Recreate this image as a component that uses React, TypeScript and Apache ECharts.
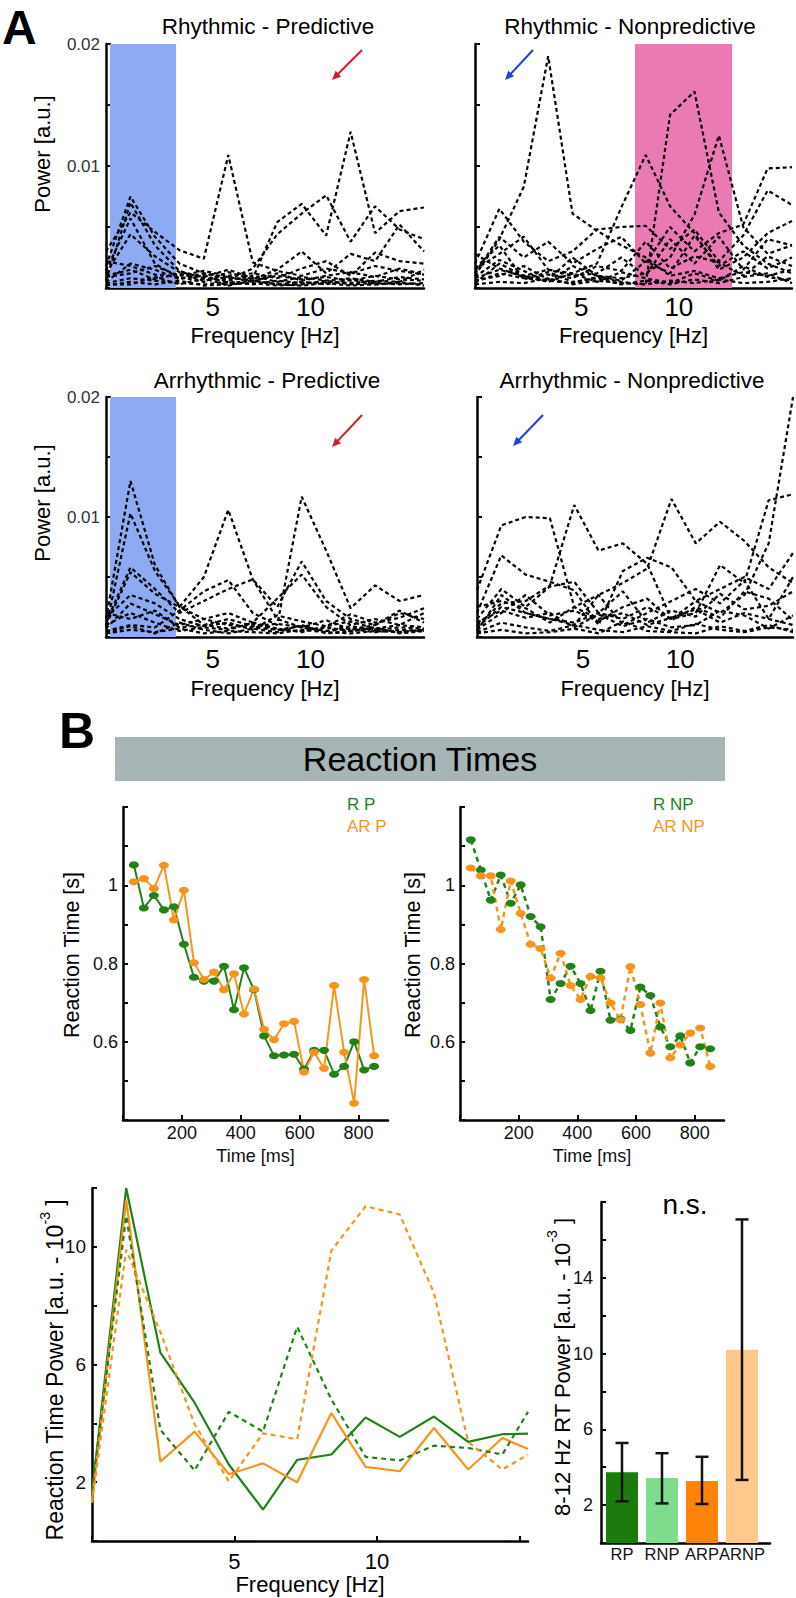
import React, { useEffect, useRef } from 'react';
import * as echarts from 'echarts';

const FONT = '"Liberation Sans", Arial, Helvetica, sans-serif';
const GREEN = '#22821a';
const ORANGE = '#f7941e';

// ---------- Panel A: per-subject spectra (power, units of 1e-3) ----------
const freqA = [-0.45, 0.8, 2.05, 3.3, 4.55, 5.8, 7.05, 8.3, 9.55, 10.8, 12.05, 13.3, 14.55, 15.8];

const rpLines = [
  [1.8, 7.5, 4.2, 2.0, 1.2, 0.9, 0.6, 1.0, 0.7, 0.9, 0.6, 1.0, 0.7, 0.6],
  [0.6, 7.0, 3.5, 1.4, 0.8, 0.6, 1.0, 0.5, 0.9, 0.6, 0.8, 0.5, 0.9, 0.7],
  [3.0, 6.2, 4.6, 3.1, 2.4, 10.9, 2.1, 1.4, 1.0, 1.6, 1.2, 1.8, 1.4, 1.1],
  [1.2, 4.4, 2.6, 1.3, 0.9, 1.5, 0.8, 5.4, 6.9, 4.3, 12.8, 4.5, 6.3, 6.6],
  [0.5, 2.0, 1.5, 0.7, 1.2, 0.7, 1.6, 4.4, 6.1, 7.6, 3.8, 6.7, 4.8, 4.0],
  [2.2, 1.8, 1.1, 0.9, 0.5, 1.3, 0.7, 1.5, 3.0, 1.2, 2.8, 2.2, 5.2, 3.0],
  [0.9, 1.2, 1.8, 1.0, 1.4, 1.0, 1.2, 0.8, 1.6, 2.2, 1.0, 2.9, 2.2, 2.0],
  [0.4, 0.8, 0.6, 0.4, 0.3, 0.5, 0.3, 0.6, 0.4, 0.5, 0.4, 0.6, 0.5, 1.5],
  [1.4, 5.7, 2.0, 0.8, 1.0, 0.4, 0.6, 0.3, 0.5, 0.3, 0.7, 0.3, 0.4, 0.3],
  [0.2, 0.5, 0.3, 0.6, 0.2, 0.3, 0.4, 0.2, 0.3, 0.6, 0.3, 0.4, 0.3, 0.4],
  [1.0, 1.5, 0.7, 1.2, 0.6, 0.9, 0.5, 1.2, 0.6, 1.0, 1.3, 0.9, 1.6, 1.1],
  [0.3, 0.3, 0.9, 0.3, 0.8, 0.2, 0.6, 0.3, 0.2, 0.4, 0.2, 0.3, 0.5, 0.2],
];
const rnpLines = [
  [1.0, 4.0, 8.3, 19.0, 6.1, 4.7, 3.5, 2.5, 1.0, 1.4, 0.8, 1.3, 1.0, 1.5],
  [0.5, 1.2, 0.8, 0.6, 0.4, 0.9, 0.5, 0.3, 14.2, 16.1, 6.2, 3.5, 2.0, 1.2],
  [0.8, 1.5, 1.0, 0.5, 1.8, 1.0, 0.8, 1.2, 2.5, 6.0, 12.5, 5.0, 2.8, 3.5],
  [0.4, 2.0, 1.0, 1.5, 1.2, 2.0, 6.6, 10.9, 6.7, 4.5, 1.5, 2.5, 4.5, 5.5],
  [2.0, 6.5, 3.8, 2.2, 3.0, 4.8, 5.0, 5.1, 3.2, 4.8, 2.2, 4.3, 8.0, 6.8],
  [1.2, 4.2, 2.5, 3.8, 2.0, 3.2, 4.2, 2.0, 5.0, 3.0, 4.5, 5.2, 9.8, 9.9],
  [1.5, 2.8, 4.2, 1.5, 1.0, 1.2, 2.5, 1.0, 4.0, 2.0, 4.2, 1.5, 4.0, 3.5],
  [0.6, 1.0, 1.8, 0.7, 2.5, 1.0, 0.6, 2.2, 1.2, 4.3, 1.8, 3.0, 1.6, 2.5],
  [0.3, 0.5, 0.4, 0.8, 0.3, 0.6, 0.4, 0.3, 0.6, 0.4, 0.7, 0.4, 0.5, 0.8],
  [2.8, 1.6, 0.9, 1.1, 0.8, 1.8, 1.4, 3.8, 1.6, 2.6, 2.1, 1.0, 2.6, 1.8],
  [0.9, 2.3, 1.4, 0.5, 1.2, 0.5, 1.3, 0.8, 0.4, 1.2, 0.6, 1.8, 0.9, 0.6],
  [1.6, 3.5, 0.7, 1.3, 0.5, 0.8, 0.3, 0.6, 0.3, 0.7, 0.4, 0.9, 1.2, 0.4],
];
const arpLines = [
  [1.5, 13.0, 6.0, 2.5, 1.5, 1.0, 0.8, 0.6, 0.9, 0.5, 0.7, 0.4, 0.6, 0.5],
  [0.8, 10.3, 5.5, 2.6, 1.0, 0.7, 1.1, 0.6, 0.5, 0.8, 0.5, 0.7, 0.4, 0.6],
  [1.0, 5.4, 3.6, 2.5, 5.0, 10.6, 4.8, 1.5, 0.8, 0.5, 0.9, 0.6, 0.8, 0.7],
  [0.5, 1.0, 0.8, 2.2, 3.8, 4.75, 2.0, 1.0, 11.7, 7.2, 2.4, 4.3, 3.0, 3.5],
  [1.2, 5.8, 4.0, 2.0, 3.0, 4.0, 4.8, 2.5, 6.3, 3.0, 1.5, 1.0, 2.0, 1.5],
  [0.7, 2.8, 1.9, 1.0, 1.5, 2.0, 1.2, 3.2, 5.2, 2.5, 1.0, 1.5, 1.0, 2.0],
  [2.0, 1.5, 2.2, 0.8, 1.0, 1.5, 0.9, 1.1, 0.8, 1.4, 0.6, 1.0, 2.2, 1.2],
  [0.3, 0.6, 0.4, 0.7, 0.3, 0.5, 0.4, 0.3, 0.6, 0.4, 0.3, 0.5, 0.4, 0.6],
  [1.0, 2.0, 1.2, 0.5, 0.8, 0.6, 1.2, 0.7, 0.4, 0.9, 1.3, 0.7, 1.0, 0.8],
  [0.4, 0.9, 0.3, 1.2, 0.6, 0.3, 0.7, 0.4, 1.0, 0.3, 0.5, 0.8, 0.3, 0.5],
  [1.6, 3.5, 2.8, 1.5, 0.9, 1.2, 0.6, 1.8, 1.3, 0.9, 1.9, 1.2, 1.6, 2.4],
];
const arnpLines = [
  [0.5, 3.5, 2.0, 1.5, 1.2, 2.0, 1.5, 2.5, 1.5, 3.0, 2.0, 3.5, 7.8, 20.0],
  [3.9, 9.3, 10.0, 9.9, 2.5, 1.5, 2.0, 1.0, 1.6, 2.3, 1.2, 2.0, 1.5, 1.0],
  [1.0, 2.8, 3.0, 4.3, 11.0, 7.2, 7.8, 6.1, 1.5, 2.0, 6.0, 4.5, 11.4, 11.9],
  [0.8, 2.5, 2.0, 1.5, 1.0, 3.5, 4.5, 5.7, 11.5, 7.8, 9.6, 8.0, 5.8, 4.5],
  [2.0, 6.8, 5.2, 4.6, 3.9, 1.0, 5.5, 6.6, 5.8, 3.0, 4.0, 5.0, 4.0, 7.0],
  [1.5, 4.0, 2.5, 4.2, 4.6, 2.0, 3.8, 1.2, 2.2, 1.7, 3.6, 2.3, 2.6, 3.8],
  [0.6, 2.0, 3.5, 1.8, 2.2, 1.3, 2.5, 3.2, 1.4, 2.5, 1.6, 3.8, 3.2, 1.4],
  [0.4, 1.2, 0.8, 0.5, 1.0, 0.6, 0.4, 0.9, 0.5, 1.1, 0.6, 0.4, 0.8, 0.6],
  [1.2, 2.2, 1.6, 2.0, 0.8, 1.9, 0.9, 1.5, 0.8, 1.0, 2.2, 1.8, 0.7, 1.8],
  [0.3, 0.6, 0.3, 0.4, 0.7, 0.3, 1.3, 0.5, 0.4, 0.3, 0.9, 0.5, 1.0, 0.4],
  [2.5, 3.0, 2.4, 1.2, 2.5, 3.5, 1.0, 2.0, 3.0, 4.0, 2.8, 4.7, 1.5, 5.0],
];
const bandRP = [-0.25, 3.13];
const bandRNP = [7.75, 12.73];
const bandARP = [-0.25, 3.13];

// ---------- Panel B: reaction times ----------
const rtTimes = [37, 71, 105, 139, 173, 207, 241, 275, 309, 343, 377, 411, 445, 479, 513, 547, 581, 615, 649, 683, 717, 751, 785, 819, 853];
const rtRP = [1.052, 0.942, 0.974, 0.937, 0.945, 0.849, 0.765, 0.755, 0.755, 0.793, 0.682, 0.789, 0.733, 0.615, 0.564, 0.566, 0.568, 0.53, 0.578, 0.578, 0.517, 0.537, 0.6, 0.528, 0.537];
const rtARP = [1.009, 1.017, 0.992, 1.051, 0.911, 0.987, 0.802, 0.759, 0.778, 0.733, 0.774, 0.671, 0.735, 0.632, 0.605, 0.646, 0.652, 0.523, 0.573, 0.532, 0.744, 0.573, 0.443, 0.759, 0.564];
const rtRNP = [1.116, 1.039, 0.962, 1.026, 0.954, 1.001, 0.92, 0.894, 0.708, 0.749, 0.793, 0.749, 0.68, 0.78, 0.655, 0.658, 0.629, 0.74, 0.718, 0.638, 0.587, 0.615, 0.546, 0.587, 0.582];
const rtARNP = [1.044, 1.024, 1.024, 0.887, 1.011, 0.928, 0.849, 0.838, 0.763, 0.826, 0.744, 0.708, 0.767, 0.763, 0.699, 0.656, 0.792, 0.695, 0.571, 0.699, 0.559, 0.592, 0.622, 0.635, 0.537];

// ---------- Reaction time power spectra (units of 1e-3) ----------
const powFreq = [0, 1.2, 2.4, 3.6, 4.8, 6.0, 7.2, 8.4, 9.6, 10.8, 12.0, 13.2, 14.4, 15.3];
const powRP = [1.6, 12.0, 6.4, 4.7, 2.6, 1.07, 2.76, 2.94, 4.2, 3.54, 4.23, 3.37, 3.63, 3.65];
const powARP = [1.35, 11.6, 2.7, 3.72, 2.27, 2.64, 2.0, 4.35, 2.52, 2.37, 3.84, 2.43, 3.5, 3.13];
const powRNP = [1.7, 11.05, 3.78, 2.4, 4.39, 3.72, 7.28, 4.81, 2.86, 2.74, 3.24, 3.16, 2.94, 4.39];
const powARNP = [1.3, 9.9, 7.1, 3.97, 2.03, 3.66, 3.46, 9.87, 11.38, 11.1, 8.43, 3.37, 2.43, 2.94];

// ---------- 8-12 Hz RT power bars ----------
const barCats = ['RP', 'RNP', 'ARP', 'ARNP'];
const barVals = [3.74, 3.43, 3.27, 10.2];
const barLow = [2.2, 2.09, 2.06, 3.33];
const barHigh = [5.28, 4.74, 4.55, 17.08];
const barColors = ['#1b7b0c', '#7fdc8c', '#ff8307', '#ffc98c'];

const AXLINE = { show: true, onZero: false, lineStyle: { color: '#000', width: 2.5 } };

function txt(x: number, y: number, text: string, size: number, o: any = {}) {
  return {
    type: 'text', x, y, rotation: o.rot || 0, z: 50,
    style: {
      text, fontSize: size, fontFamily: FONT, fontWeight: o.bold ? 'bold' : 'normal',
      fill: o.color || '#000', align: o.align || 'center', verticalAlign: 'middle',
      textAlign: o.align || 'center', textVerticalAlign: 'middle', rich: o.rich,
    },
  };
}

function arrow(x1: number, y1: number, x2: number, y2: number, color: string) {
  const dx = x2 - x1, dy = y2 - y1;
  const L = Math.hypot(dx, dy);
  const ux = dx / L, uy = dy / L, px = -uy, py = ux;
  const hl = 9, hw = 4;
  const bx = x2 - ux * hl, by = y2 - uy * hl;
  return [
    { type: 'line', z: 50, shape: { x1, y1, x2: bx + ux * 2, y2: by + uy * 2 }, style: { stroke: color, lineWidth: 2 } },
    { type: 'polygon', z: 50, shape: { points: [[x2, y2], [bx + px * hw, by + py * hw], [bx - px * hw, by - py * hw]] }, style: { fill: color } },
  ];
}

function bandSeries(idx: number, band: number[], color: string) {
  return {
    type: 'custom', xAxisIndex: idx, yAxisIndex: idx, z: 1, silent: true,
    data: [[band[0], band[1], 0]],
    encode: { x: [0, 1], y: 2 },
    renderItem: (params: any, api: any) => {
      const p0 = api.coord([api.value(0), 20]);
      const p1 = api.coord([api.value(1), 0]);
      return { type: 'rect', shape: { x: p0[0], y: p0[1], width: p1[0] - p0[0], height: p1[1] - p0[1] }, style: { fill: color } };
    },
  };
}

function subjSeries(idx: number, lines: number[][]) {
  return lines.map((vals) => ({
    type: 'line', xAxisIndex: idx, yAxisIndex: idx, z: 3, silent: true,
    data: freqA.map((f, j) => [f, vals[j]]),
    symbol: 'none',
    lineStyle: { color: '#000', width: 2.2, type: [4, 3] },
  }));
}

function buildOption() {
  const grid = [
    { left: 106, top: 44, width: 318, height: 244 },
    { left: 475, top: 44, width: 317, height: 244 },
    { left: 106, top: 397, width: 318, height: 240 },
    { left: 477, top: 397, width: 316, height: 240 },
    { left: 123, top: 807, width: 265, height: 313 },
    { left: 460, top: 807, width: 264, height: 313 },
    { left: 92, top: 1188, width: 436, height: 353 },
    { left: 601, top: 1202, width: 169, height: 341 },
  ];

  const xAxis: any[] = [];
  const yAxis: any[] = [];
  for (let i = 0; i < 4; i++) {
    const top = i < 2;
    xAxis.push({
      type: 'value', gridIndex: i, min: -0.45, max: 15.8,
      axisLine: AXLINE, axisTick: { show: false }, splitLine: { show: false },
      axisLabel: { customValues: [5, 10], fontSize: 26, color: '#000', margin: top ? 6 : 9, fontFamily: FONT },
      name: 'Frequency [Hz]', nameLocation: 'middle', nameGap: top ? 36 : 40,
      nameTextStyle: { fontSize: 22, color: '#000', fontFamily: FONT },
    });
    yAxis.push({
      type: 'value', gridIndex: i, min: 0, max: 20, interval: 5,
      axisLine: AXLINE, axisTick: { show: true, inside: true, length: 5, lineStyle: { color: '#000', width: 2 } },
      splitLine: { show: false },
      axisLabel: {
        show: i % 2 === 0, fontSize: 17, color: '#333', margin: 6, fontFamily: FONT,
        formatter: (v: number) => (v === 10 ? '0.01' : v === 20 ? '0.02' : ''),
      },
    });
  }
  for (let i = 4; i < 6; i++) {
    xAxis.push({
      type: 'value', gridIndex: i, min: 0, max: 900, interval: 200,
      axisLine: AXLINE, axisTick: { show: true, inside: true, length: 5, lineStyle: { color: '#000', width: 2 } },
      splitLine: { show: false },
      axisLabel: { fontSize: 18, color: '#111', margin: 4, fontFamily: FONT, formatter: (v: number) => (v === 0 ? '' : String(v)) },
      name: 'Time [ms]', nameLocation: 'middle', nameGap: 27,
      nameTextStyle: { fontSize: 18, color: '#111', fontFamily: FONT },
    });
    yAxis.push({
      type: 'value', gridIndex: i, min: 0.4, max: 1.2, interval: 0.1,
      axisLine: AXLINE, axisTick: { show: true, inside: true, length: 5, lineStyle: { color: '#000', width: 2 } },
      splitLine: { show: false },
      axisLabel: {
        fontSize: 18, color: '#111', margin: 5, fontFamily: FONT,
        formatter: (v: number) => {
          const k = Math.round(v * 10);
          return k === 6 ? '0.6' : k === 8 ? '0.8' : k === 10 ? '1' : '';
        },
      },
    });
  }
  xAxis.push({
    type: 'value', gridIndex: 6, min: 0, max: 15.3, interval: 5,
    axisLine: AXLINE, axisTick: { show: true, inside: true, length: 5, lineStyle: { color: '#000', width: 2 } },
    splitLine: { show: false },
    axisLabel: { fontSize: 22, color: '#000', margin: 9, fontFamily: FONT, showMaxLabel: false, formatter: (v: number) => (v === 5 || v === 10 ? String(v) : '') },
    name: 'Frequency [Hz]', nameLocation: 'middle', nameGap: 32,
    nameTextStyle: { fontSize: 22, color: '#000', fontFamily: FONT },
  });
  yAxis.push({
    type: 'value', gridIndex: 6, min: 0, max: 12, interval: 2,
    axisLine: AXLINE, axisTick: { show: true, inside: true, length: 5, lineStyle: { color: '#000', width: 2 } },
    splitLine: { show: false },
    axisLabel: { fontSize: 19, color: '#111', margin: 6, fontFamily: FONT, formatter: (v: number) => (v === 2 || v === 6 || v === 10 ? String(v) : '') },
  });
  xAxis.push({
    type: 'value', gridIndex: 7, min: 0.475, max: 4.7,
    axisLine: AXLINE, axisTick: { show: false }, splitLine: { show: false },
    axisLabel: {
      customValues: [1, 2, 3, 4], fontSize: 16.5, color: '#111', margin: 2, fontFamily: FONT,
      hideOverlap: false, showMaxLabel: true, showMinLabel: true,
      formatter: (v: number) => barCats[Math.round(v) - 1] || '',
    },
  });
  yAxis.push({
    type: 'value', gridIndex: 7, min: 0, max: 18, interval: 2,
    axisLine: AXLINE, axisTick: { show: true, inside: true, length: 5, lineStyle: { color: '#000', width: 2 } },
    splitLine: { show: false },
    axisLabel: { fontSize: 18, color: '#111', margin: 8, fontFamily: FONT, formatter: (v: number) => (v === 2 || v === 6 || v === 10 || v === 14 ? String(v) : '') },
  });

  const series: any[] = [];
  series.push(bandSeries(0, bandRP, '#8eaaf2'));
  series.push(bandSeries(1, bandRNP, '#e97ab3'));
  series.push(bandSeries(2, bandARP, '#8eaaf2'));
  series.push(...subjSeries(0, rpLines));
  series.push(...subjSeries(1, rnpLines));
  series.push(...subjSeries(2, arpLines));
  series.push(...subjSeries(3, arnpLines));

  const rtLine = (idx: number, vals: number[], color: string, dashed: boolean) => ({
    type: 'line', xAxisIndex: idx, yAxisIndex: idx, z: 3,
    data: rtTimes.map((t, j) => [t, vals[j]]),
    symbol: 'circle', symbolSize: [10, 7],
    itemStyle: { color },
    lineStyle: { color, width: dashed ? 2.5 : 2, type: dashed ? [5, 4] : 'solid' },
  });
  series.push(rtLine(4, rtRP, GREEN, false));
  series.push(rtLine(4, rtARP, ORANGE, false));
  series.push(rtLine(5, rtRNP, GREEN, true));
  series.push(rtLine(5, rtARNP, ORANGE, true));

  const powLine = (vals: number[], color: string, dashed: boolean) => ({
    type: 'line', xAxisIndex: 6, yAxisIndex: 6, z: 3,
    data: powFreq.map((f, j) => [f, vals[j]]),
    symbol: 'none',
    lineStyle: { color, width: 2.2, type: dashed ? [5, 4] : 'solid' },
  });
  series.push(powLine(powRP, GREEN, false));
  series.push(powLine(powARP, ORANGE, false));
  series.push(powLine(powRNP, GREEN, true));
  series.push(powLine(powARNP, ORANGE, true));

  series.push({
    type: 'bar', xAxisIndex: 7, yAxisIndex: 7, barWidth: 32, z: 2,
    data: barVals.map((v, i) => ({ value: [i + 1, v], itemStyle: { color: barColors[i] } })),
  });
  series.push({
    type: 'custom', xAxisIndex: 7, yAxisIndex: 7, z: 5,
    data: barVals.map((_, i) => [i + 1, barLow[i], barHigh[i]]),
    encode: { x: 0, y: [1, 2] },
    renderItem: (params: any, api: any) => {
      const x = api.value(0);
      const lo = api.coord([x, api.value(1)]);
      const hi = api.coord([x, api.value(2)]);
      const w = 6.5;
      const st = { stroke: '#111', lineWidth: 2.5 };
      return {
        type: 'group',
        children: [
          { type: 'line', shape: { x1: lo[0], y1: lo[1], x2: hi[0], y2: hi[1] }, style: st },
          { type: 'line', shape: { x1: lo[0] - w, y1: lo[1], x2: lo[0] + w, y2: lo[1] }, style: st },
          { type: 'line', shape: { x1: hi[0] - w, y1: hi[1], x2: hi[0] + w, y2: hi[1] }, style: st },
        ],
      };
    },
  });

  const supRich = (size: number) => ({
    a: { fontSize: size, fontFamily: FONT, color: '#000', lineHeight: size + 12 },
    s: { fontSize: Math.round(size * 0.62), fontFamily: FONT, color: '#000', verticalAlign: 'top' },
  });

  const graphic: any[] = [
    txt(2, 27, 'A', 48, { bold: true, align: 'left' }),
    txt(59, 731, 'B', 50, { bold: true, align: 'left' }),
    txt(268, 26, 'Rhythmic - Predictive', 22.5),
    txt(630, 26, 'Rhythmic - Nonpredictive', 22.5),
    txt(267, 380, 'Arrhythmic - Predictive', 22.5),
    txt(632, 380, 'Arrhythmic - Nonpredictive', 22.5),
    txt(42, 154, 'Power [a.u.]', 22, { rot: Math.PI / 2 }),
    txt(42, 503, 'Power [a.u.]', 22, { rot: Math.PI / 2 }),
    ...arrow(362, 50, 332, 80, '#c8202e'),
    ...arrow(533, 50, 505, 80, '#1f3fe0'),
    ...arrow(362, 415, 332, 447, '#c8202e'),
    ...arrow(543, 415, 513, 446, '#1f3fe0'),
    { type: 'rect', z: 40, shape: { x: 115, y: 737, width: 610, height: 44 }, style: { fill: '#a7b5b6' } },
    txt(420, 759, 'Reaction Times', 34),
    txt(347, 804, 'R P', 17, { color: GREEN, align: 'left' }),
    txt(347, 826, 'AR P', 17, { color: ORANGE, align: 'left' }),
    txt(653, 804, 'R NP', 17, { color: GREEN, align: 'left' }),
    txt(653, 826, 'AR NP', 17, { color: ORANGE, align: 'left' }),
    txt(72, 955, 'Reaction Time [s]', 21.5, { rot: Math.PI / 2 }),
    txt(413, 955, 'Reaction Time [s]', 21.5, { rot: Math.PI / 2 }),
    txt(55, 1370, '{a|Reaction Time Power [a.u. - 10}{s|-3}{a| ]}', 23, { rot: Math.PI / 2, rich: supRich(23) }),
    txt(562, 1367, '{a|8-12 Hz RT Power [a.u. - 10}{s|-3}{a| ]}', 22, { rot: Math.PI / 2, rich: supRich(22) }),
    txt(685, 1204, 'n.s.', 28),
  ];

  return {
    animation: false,
    backgroundColor: '#fff',
    textStyle: { fontFamily: FONT },
    grid,
    xAxis,
    yAxis,
    series,
    graphic,
  };
}

export default function App() {
  const ref = useRef<HTMLDivElement>(null);
  useEffect(() => {
    if (!ref.current) return;
    const chart = echarts.init(ref.current, null, { renderer: 'svg' });
    chart.setOption(buildOption() as any);
    return () => chart.dispose();
  }, []);
  return <div ref={ref} style={{ position: 'absolute', left: 0, top: 0, width: 796, height: 1598 }} />;
}
